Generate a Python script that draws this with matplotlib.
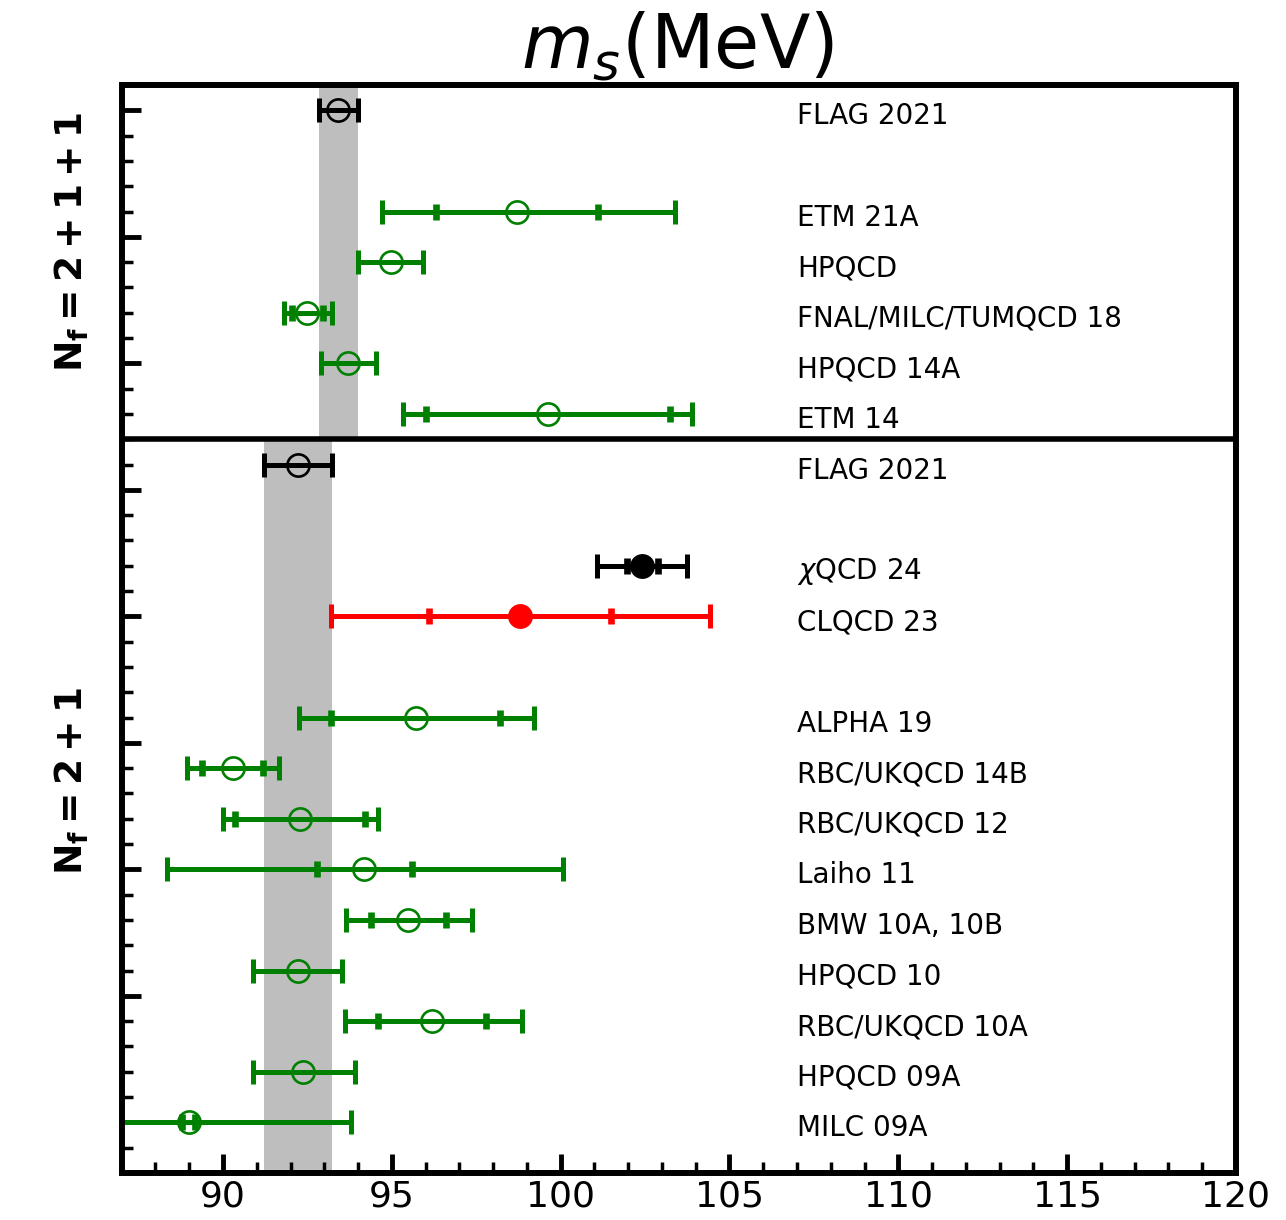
import matplotlib.pyplot as plt
from matplotlib.ticker import MultipleLocator
from matplotlib.transforms import blended_transform_factory

# N_f = 2+1+1 results, top to bottom
top_labels = ["FLAG 2021", "ETM 21A", "HPQCD", "FNAL/MILC/TUMQCD 18", "HPQCD 14A", "ETM 14"]
top_val = [93.42, 98.70, 94.97, 92.50, 93.70, 99.62]
top_stat = [0.0, 2.40, 0.0, 0.45, 0.0, 3.61]
top_err_lo = [0.59, 4.00, 0.96, 0.70, 0.80, 4.28]
top_err_hi = [0.59, 4.69, 0.95, 0.72, 0.83, 4.27]

# N_f = 2+1 results, top to bottom
bot_labels = ["FLAG 2021", r"$\chi$QCD 24", "CLQCD 23", "ALPHA 19", "RBC/UKQCD 14B",
              "RBC/UKQCD 12", "Laiho 11", "BMW 10A, 10B", "HPQCD 10", "RBC/UKQCD 10A",
              "HPQCD 09A", "MILC 09A"]
bot_val = [92.22, 102.42, 98.80, 95.71, 90.29, 92.28, 94.19, 95.49, 92.21, 96.20, 92.38, 88.98]
bot_stat = [0.0, 0.45, 2.70, 2.50, 0.90, 1.93, 1.40, 1.10, 0.0, 1.60, 0.0, 0.20]
bot_err_lo = [1.02, 1.34, 5.60, 3.46, 1.35, 2.29, 5.86, 1.86, 1.31, 2.58, 1.48, 4.80]
bot_err_hi = [1.02, 1.33, 5.63, 3.49, 1.37, 2.32, 5.89, 1.88, 1.31, 2.65, 1.53, 4.80]

# marker styles
GREEN, RED, BLACK = "#008000", "#ff0000", "black"
top_color = [BLACK] + [GREEN] * 5
top_filled = [False] * 6
bot_color = [BLACK, BLACK, RED] + [GREEN] * 9
bot_filled = [False, True, True] + [False] * 9


def row_positions(n, start, skip_before):
    ys, y = [], start
    for i in range(n):
        if i in skip_before:
            y -= 1
        ys.append(y)
        y -= 1
    return ys


top_y = row_positions(len(top_labels), 20, [1])
bot_y = row_positions(len(bot_labels), 13, [1, 3])
divider = 13.5

fig = plt.figure(figsize=(12.86, 12.20), dpi=100)
ax = fig.add_axes([121.7 / 1286, 1 - 1173 / 1220, (1236 - 121.7) / 1286, (1173 - 85) / 1220])
ax.set_xlim(87, 120)
ax.set_ylim(-1, 20.5)

# FLAG averages as grey bands
ax.fill_betweenx([divider, 20.5], top_val[0] - top_err_lo[0], top_val[0] + top_err_hi[0],
                 color="#bebebe", lw=0, zorder=0)
ax.fill_betweenx([-1, divider], bot_val[0] - bot_err_lo[0], bot_val[0] + bot_err_hi[0],
                 color="#bebebe", lw=0, zorder=0)


def draw(y, x, stat, lo, hi, color, filled, label):
    ax.errorbar(x, y, xerr=[[lo], [hi]], fmt="none", ecolor=color,
                elinewidth=3.6, capsize=8.3, capthick=3.6, zorder=2)
    if stat > 0:
        ax.errorbar(x, y, xerr=stat, fmt="none", ecolor=color,
                    elinewidth=3.6, capsize=5.6, capthick=4.8, zorder=2)
    ax.plot(x, y, "o", ms=16, mfc=color if filled else "none", mec=color, mew=1.9, zorder=3)
    ax.text(107, y - 0.12, label, fontsize=20, va="center", ha="left")


for i in range(len(top_labels)):
    draw(top_y[i], top_val[i], top_stat[i], top_err_lo[i], top_err_hi[i],
         top_color[i], top_filled[i], top_labels[i])
for i in range(len(bot_labels)):
    draw(bot_y[i], bot_val[i], bot_stat[i], bot_err_lo[i], bot_err_hi[i],
         bot_color[i], bot_filled[i], bot_labels[i])

ax.axhline(divider, color="black", lw=4.0, zorder=4)

for s in ax.spines.values():
    s.set_linewidth(4.3)

ax.xaxis.set_major_locator(MultipleLocator(5))
ax.xaxis.set_minor_locator(MultipleLocator(1))
ax.yaxis.set_major_locator(MultipleLocator(2.5))
ax.yaxis.set_minor_locator(MultipleLocator(0.5))
ax.tick_params(which="major", direction="in", length=13.5, width=3.5, labelsize=26, pad=5)
ax.tick_params(which="minor", direction="in", length=8, width=2.5)
ax.tick_params(top=False, right=False, which="both")
ax.tick_params(axis="y", labelleft=False)

trans = blended_transform_factory(ax.transAxes, ax.transData)
ax.text(-0.045, 17.4, r"$\mathbf{N_f = 2+1+1}$", transform=trans, rotation=90,
        ha="center", va="center", fontsize=27)
ax.text(-0.045, 6.75, r"$\mathbf{N_f = 2+1}$", transform=trans, rotation=90,
        ha="center", va="center", fontsize=27)

fig.text(0.527, 1 - 68 / 1220, r"$m_s$(MeV)", fontsize=53, ha="center", va="baseline")

fig.savefig("out.png", dpi=100)
